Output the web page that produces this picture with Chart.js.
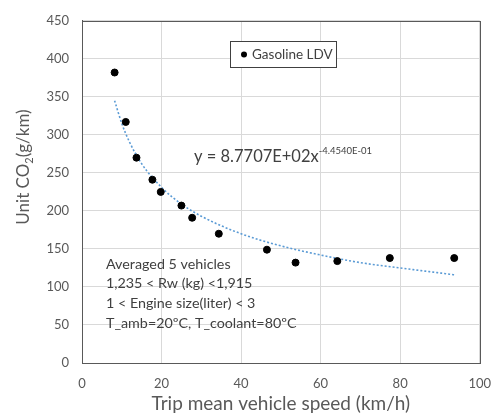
<!DOCTYPE html>
<html>
<head>
<meta charset="utf-8">
<script src="https://cdn.jsdelivr.net/npm/chart.js@4"></script>
<style>
  html, body { margin: 0; padding: 0; background: #fff; }
  #wrap { width: 504px; height: 418px; position: relative; }
</style>
</head>
<body>
<div id="wrap"><canvas id="co2Chart" width="504" height="418"></canvas></div>
<script>
// Measured points (trip mean speed km/h, unit CO2 g/km)
const speeds = [8.2, 11.0, 13.7, 17.7, 19.8, 25.0, 27.7, 34.4, 46.5, 53.7, 64.2, 77.4, 93.6];
const co2 = [382, 317, 270, 241, 225, 207, 191, 170, 149, 132, 134, 138, 138];

// Power trendline, values
const trendX = [8.2, 10, 12, 15, 20, 25, 30, 40, 50, 60, 70, 80, 93.6];
const trendY = [345, 315, 290, 262, 231, 209, 193, 170, 154, 142, 132, 125, 116];

const xTicks = [0, 20, 40, 60, 80, 100];
const yTicks = [0, 50, 100, 150, 200, 250, 300, 350, 400, 450];

const legendLabel = 'Gasoline LDV';
const equation = 'y = 8.7707E+02x';
const exponent = '-4.4540E-01';
const notes = ['Averaged 5 vehicles', '1,235 < Rw (kg) <1,915', '1 < Engine size(liter) < 3', 'T_amb=20\u00BAC, T_coolant=80\u00BAC'];

const FONT = "Lato, 'Open Sans', sans-serif";
const axisGrey = '#595959';

const toXY = (xs, ys) => xs.map((x, i) => ({ x: x, y: ys[i] }));

// Titles, legend box, equation and notes drawn over the plot
const overlay = {
    id: 'overlay',
    afterDraw(chart) {
        const ctx = chart.ctx;
        const a = chart.chartArea;
        ctx.save();

        // plot frame
        ctx.strokeStyle = axisGrey;
        ctx.lineWidth = 1;
        ctx.strokeRect(Math.round(a.left) + 0.5, Math.round(a.top) + 0.5, Math.round(a.right - a.left), Math.round(a.bottom - a.top));

        // legend box
        ctx.fillStyle = '#fff';
        ctx.fillRect(230, 41, 107, 26);
        ctx.strokeStyle = '#404040';
        ctx.strokeRect(230.5, 41.5, 106, 26);
        ctx.fillStyle = '#000';
        ctx.beginPath();
        ctx.arc(244, 54.5, 3, 0, Math.PI * 2);
        ctx.fill();
        ctx.fillStyle = '#404040';
        ctx.font = '13.5px ' + FONT;
        ctx.textBaseline = 'middle';
        ctx.textAlign = 'left';
        ctx.fillText(legendLabel, 252, 55);

        // equation with superscript
        ctx.font = '16.5px ' + FONT;
        ctx.fillText(equation, 194, 157);
        const w = ctx.measureText(equation).width;
        ctx.font = '9.5px ' + FONT;
        ctx.fillText(exponent, 194 + w, 151);

        // notes
        ctx.font = '14.3px ' + FONT;
        notes.forEach((t, i) => ctx.fillText(t, 106, 264 + i * 19.7));

        // x title
        ctx.fillStyle = axisGrey;
        ctx.font = '19px ' + FONT;
        ctx.textAlign = 'center';
        ctx.fillText('Trip mean vehicle speed (km/h)', (a.left + a.right) / 2, 404);

        // y title with subscript
        ctx.translate(24, 167);
        ctx.rotate(-Math.PI / 2);
        const p1 = 'Unit CO', p2 = '2', p3 = '(g/km)';
        ctx.font = '17px ' + FONT;
        const w1 = ctx.measureText(p1).width, w3 = ctx.measureText(p3).width;
        ctx.font = '11px ' + FONT;
        const w2 = ctx.measureText(p2).width;
        let x0 = -(w1 + w2 + w3) / 2;
        ctx.textAlign = 'left';
        ctx.font = '17px ' + FONT;
        ctx.fillText(p1, x0, 0);
        ctx.font = '11px ' + FONT;
        ctx.fillText(p2, x0 + w1, 5);
        ctx.font = '17px ' + FONT;
        ctx.fillText(p3, x0 + w1 + w2, 0);

        ctx.restore();
    }
};

const ctx = document.getElementById('co2Chart').getContext('2d');
new Chart(ctx, {
    type: 'scatter',
    data: {
        datasets: [
            {
                label: legendLabel,
                data: toXY(speeds, co2),
                backgroundColor: '#000',
                borderColor: '#000',
                pointRadius: 3.5,
                order: 0
            },
            {
                label: 'Power trend',
                type: 'line',
                data: toXY(trendX, trendY),
                borderColor: '#5b9bd5',
                borderWidth: 1.6,
                borderDash: [2, 2],
                pointRadius: 0,
                fill: false,
                cubicInterpolationMode: 'monotone',
                order: 1
            }
        ]
    },
    options: {
        responsive: false,
        animation: false,
        layout: { padding: { left: 0, right: 17, top: 12, bottom: 0 } },
        plugins: {
            legend: { display: false },
            tooltip: { enabled: false }
        },
        scales: {
            x: {
                type: 'linear',
                min: 0,
                max: 100,
                afterBuildTicks: s => { s.ticks = xTicks.map(v => ({ value: v })); },
                afterFit: s => { s.height = 55; },
                grid: { color: '#d9d9d9', tickLength: 0 },
                border: { color: axisGrey },
                ticks: { color: axisGrey, font: { family: FONT, size: 13 }, padding: 13, maxRotation: 0 }
            },
            y: {
                min: 0,
                max: 450,
                afterBuildTicks: s => { s.ticks = yTicks.map(v => ({ value: v })); },
                afterFit: s => { s.width = 82; },
                grid: { color: '#d9d9d9', tickLength: 0 },
                border: { color: axisGrey },
                ticks: { color: axisGrey, font: { family: FONT, size: 13 }, padding: 13 }
            }
        }
    },
    plugins: [overlay]
});
</script>
</body>
</html>
